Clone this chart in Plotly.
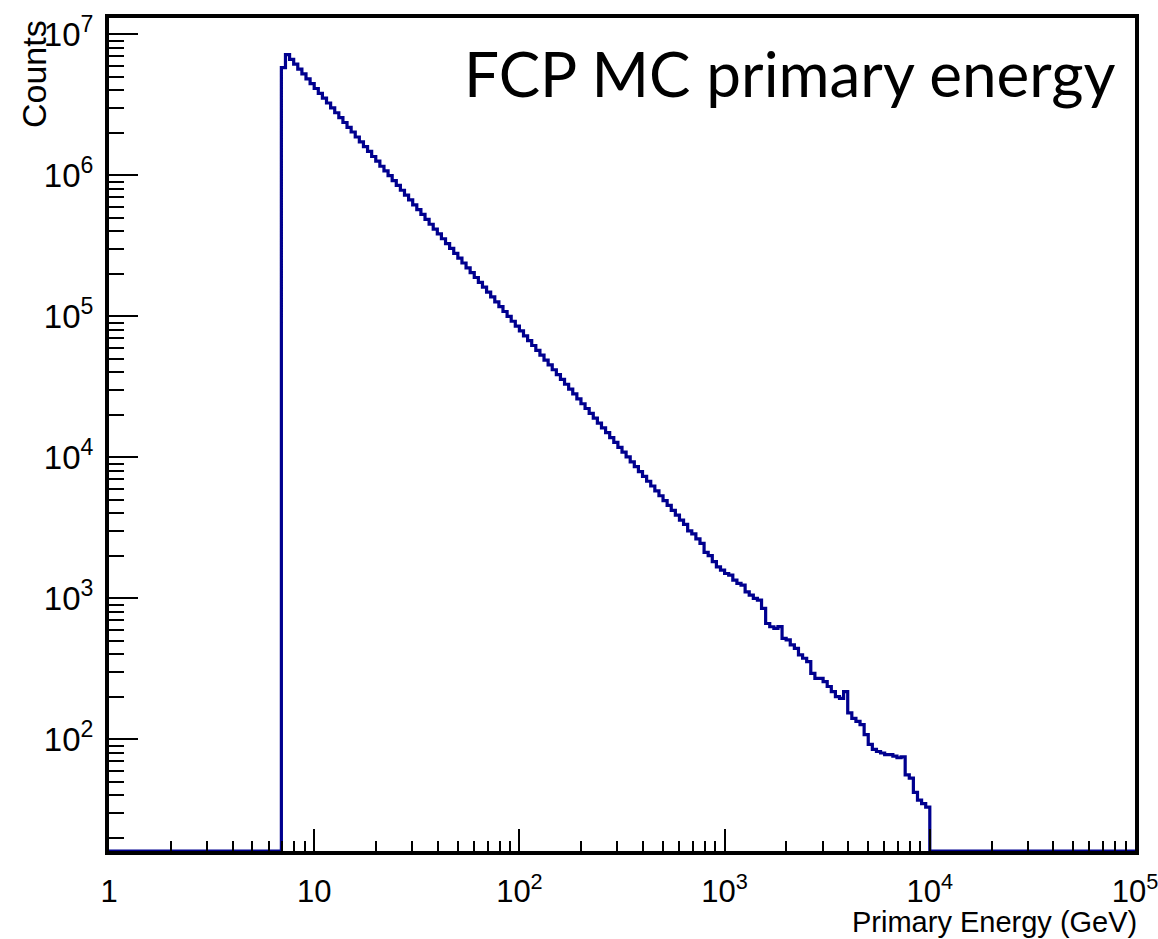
import numpy as np
import plotly.graph_objects as go

# ---------------- data ----------------
# Histogram: 250 log-uniform bins from 1 to 1e5 GeV; bins 42..199 filled
N_BINS = 250
E_MIN = 1.0
E_MAX = 1e5
FIRST_BIN = 42

counts = [
    5800000, 7190000, 6640000, 6140000, 5670000, 5240000, 4840000, 4470000,
    4130000, 3820000, 3530000, 3260000, 3010000, 2780000, 2570000, 2370000,
    2190000, 2030000, 1870000, 1730000, 1600000, 1480000, 1360000, 1260000,
    1160000, 1076000, 994000, 918000, 848000, 784000, 724000, 669000,
    618000, 571000, 528000, 488000, 450000, 416000, 385000, 355000,
    328000, 303000, 280000, 259000, 239000, 221000, 204000, 188600,
    174200, 161000, 148700, 137400, 126700, 117100, 108200, 99900,
    92300, 85300, 78800, 72800, 67300, 62100, 57400, 53000,
    49000, 45300, 41800, 38600, 35700, 33000, 30500, 28200,
    26000, 24000, 22200, 20500, 18950, 17510, 16180, 14950,
    13810, 12760, 11780, 10890, 10060, 9290, 8590, 7930,
    7330, 6770, 6260, 5780, 5340, 4930, 4560, 4210,
    3890, 3590, 3350, 3010, 2870, 2640, 2450, 2120,
    2010, 1820, 1670, 1585, 1500, 1460, 1345, 1275,
    1240, 1110, 1054, 998, 970, 848, 663, 629,
    612, 630, 520, 507, 467, 442, 397, 376,
    356, 294, 271, 271, 257, 237, 218, 201,
    195, 218, 154, 141, 134, 127, 108, 92,
    85, 82, 80, 78, 78, 76, 74, 75,
    56, 53, 42, 37, 35, 33,
]

x_tick_vals = [1, 10, 100, 1000, 10000, 100000]
x_tick_text = ["1", "10", "10<sup>2</sup>", "10<sup>3</sup>", "10<sup>4</sup>", "10<sup>5</sup>"]
y_tick_vals = [1e2, 1e3, 1e4, 1e5, 1e6, 1e7]
y_tick_text = ["10<sup>2</sup>", "10<sup>3</sup>", "10<sup>4</sup>",
               "10<sup>5</sup>", "10<sup>6</sup>", "10<sup>7</sup>"]

x_title = "Primary Energy (GeV)"
y_title = "Counts"
plot_label = "FCP MC primary energy"

# ---------------- layout constants ----------------
X_RANGE = [0, 5]
Y_RANGE = [1.208, 7.116]
LINE_COLOR = "#00008f"
FONT = "Liberation Sans, Arial, sans-serif"

W, H = 1158, 939
ML, MR, MT, MB = 109, 23, 18, 88

# ---------------- build the step outline ----------------
edges = np.logspace(np.log10(E_MIN), np.log10(E_MAX), N_BINS + 1)
n = len(counts)
lo_edges = list(edges[FIRST_BIN:FIRST_BIN + n])
last_edge = edges[FIRST_BIN + n]
y_floor = 10 ** Y_RANGE[0]

xs = [E_MIN] + lo_edges + [last_edge, E_MAX]
ys = [y_floor] + counts + [y_floor, y_floor]

fig = go.Figure()
fig.add_trace(go.Scatter(
    x=xs, y=ys, mode="lines", line_shape="hv",
    line=dict(color=LINE_COLOR, width=3.2),
    hoverinfo="skip", showlegend=False,
))

x_minor = [m * 10 ** d for d in range(0, 5) for m in range(2, 10)]
y_minor = [m * 10 ** d for d in range(1, 7) for m in range(2, 10)
           if Y_RANGE[0] <= np.log10(m * 10 ** d) <= Y_RANGE[1]]

fig.update_layout(
    width=W, height=H,
    margin=dict(l=ML, r=MR, t=MT, b=MB, pad=0, autoexpand=False),
    paper_bgcolor="white", plot_bgcolor="white",
    showlegend=False,
    xaxis=dict(
        type="log", range=X_RANGE, automargin=False,
        showline=True, linecolor="black", linewidth=4, mirror=True,
        showgrid=False, zeroline=False,
        ticks="inside", ticklen=22, tickwidth=1.6, tickcolor="black",
        tickmode="array", tickvals=x_tick_vals, ticktext=x_tick_text,
        tickfont=dict(family=FONT, size=31, color="black"),
        ticklabelstandoff=10,
        ticklabeloverflow="allow",
        minor=dict(ticks="inside", ticklen=10, tickwidth=1.6, tickcolor="black",
                   tickmode="array", tickvals=x_minor, showgrid=False),
    ),
    yaxis=dict(
        type="log", range=Y_RANGE, automargin=False,
        showline=True, linecolor="black", linewidth=4, mirror=True,
        showgrid=False, zeroline=False,
        ticks="inside", ticklen=29, tickwidth=1.6, tickcolor="black",
        tickmode="array", tickvals=y_tick_vals, ticktext=y_tick_text,
        tickfont=dict(family=FONT, size=33, color="black"),
        ticklabelstandoff=5,
        ticklabeloverflow="allow",
        minor=dict(ticks="inside", ticklen=15, tickwidth=1.6, tickcolor="black",
                   tickmode="array", tickvals=y_minor, showgrid=False),
    ),
)

pw = W - ML - MR
ph = H - MT - MB

fig.add_annotation(
    text=y_title, textangle=-90, showarrow=False,
    xref="paper", yref="paper",
    x=(34 - ML) / pw, y=1.0, xanchor="center", yanchor="top",
    font=dict(family=FONT, size=34, color="black"),
)
fig.add_annotation(
    text=x_title, showarrow=False,
    xref="paper", yref="paper",
    x=1 + 4 / pw, y=-(922 - (H - MB)) / ph, xanchor="right", yanchor="middle",
    font=dict(family=FONT, size=29, color="black"),
)
fig.add_annotation(
    text=plot_label, showarrow=False,
    xref="paper", yref="paper",
    x=(462 - ML) / pw, y=((H - MB) - 73) / ph, xanchor="left", yanchor="middle",
    font=dict(family="Lato, Calibri, sans-serif", size=62, color="black"),
)

fig.write_html("out.html")
